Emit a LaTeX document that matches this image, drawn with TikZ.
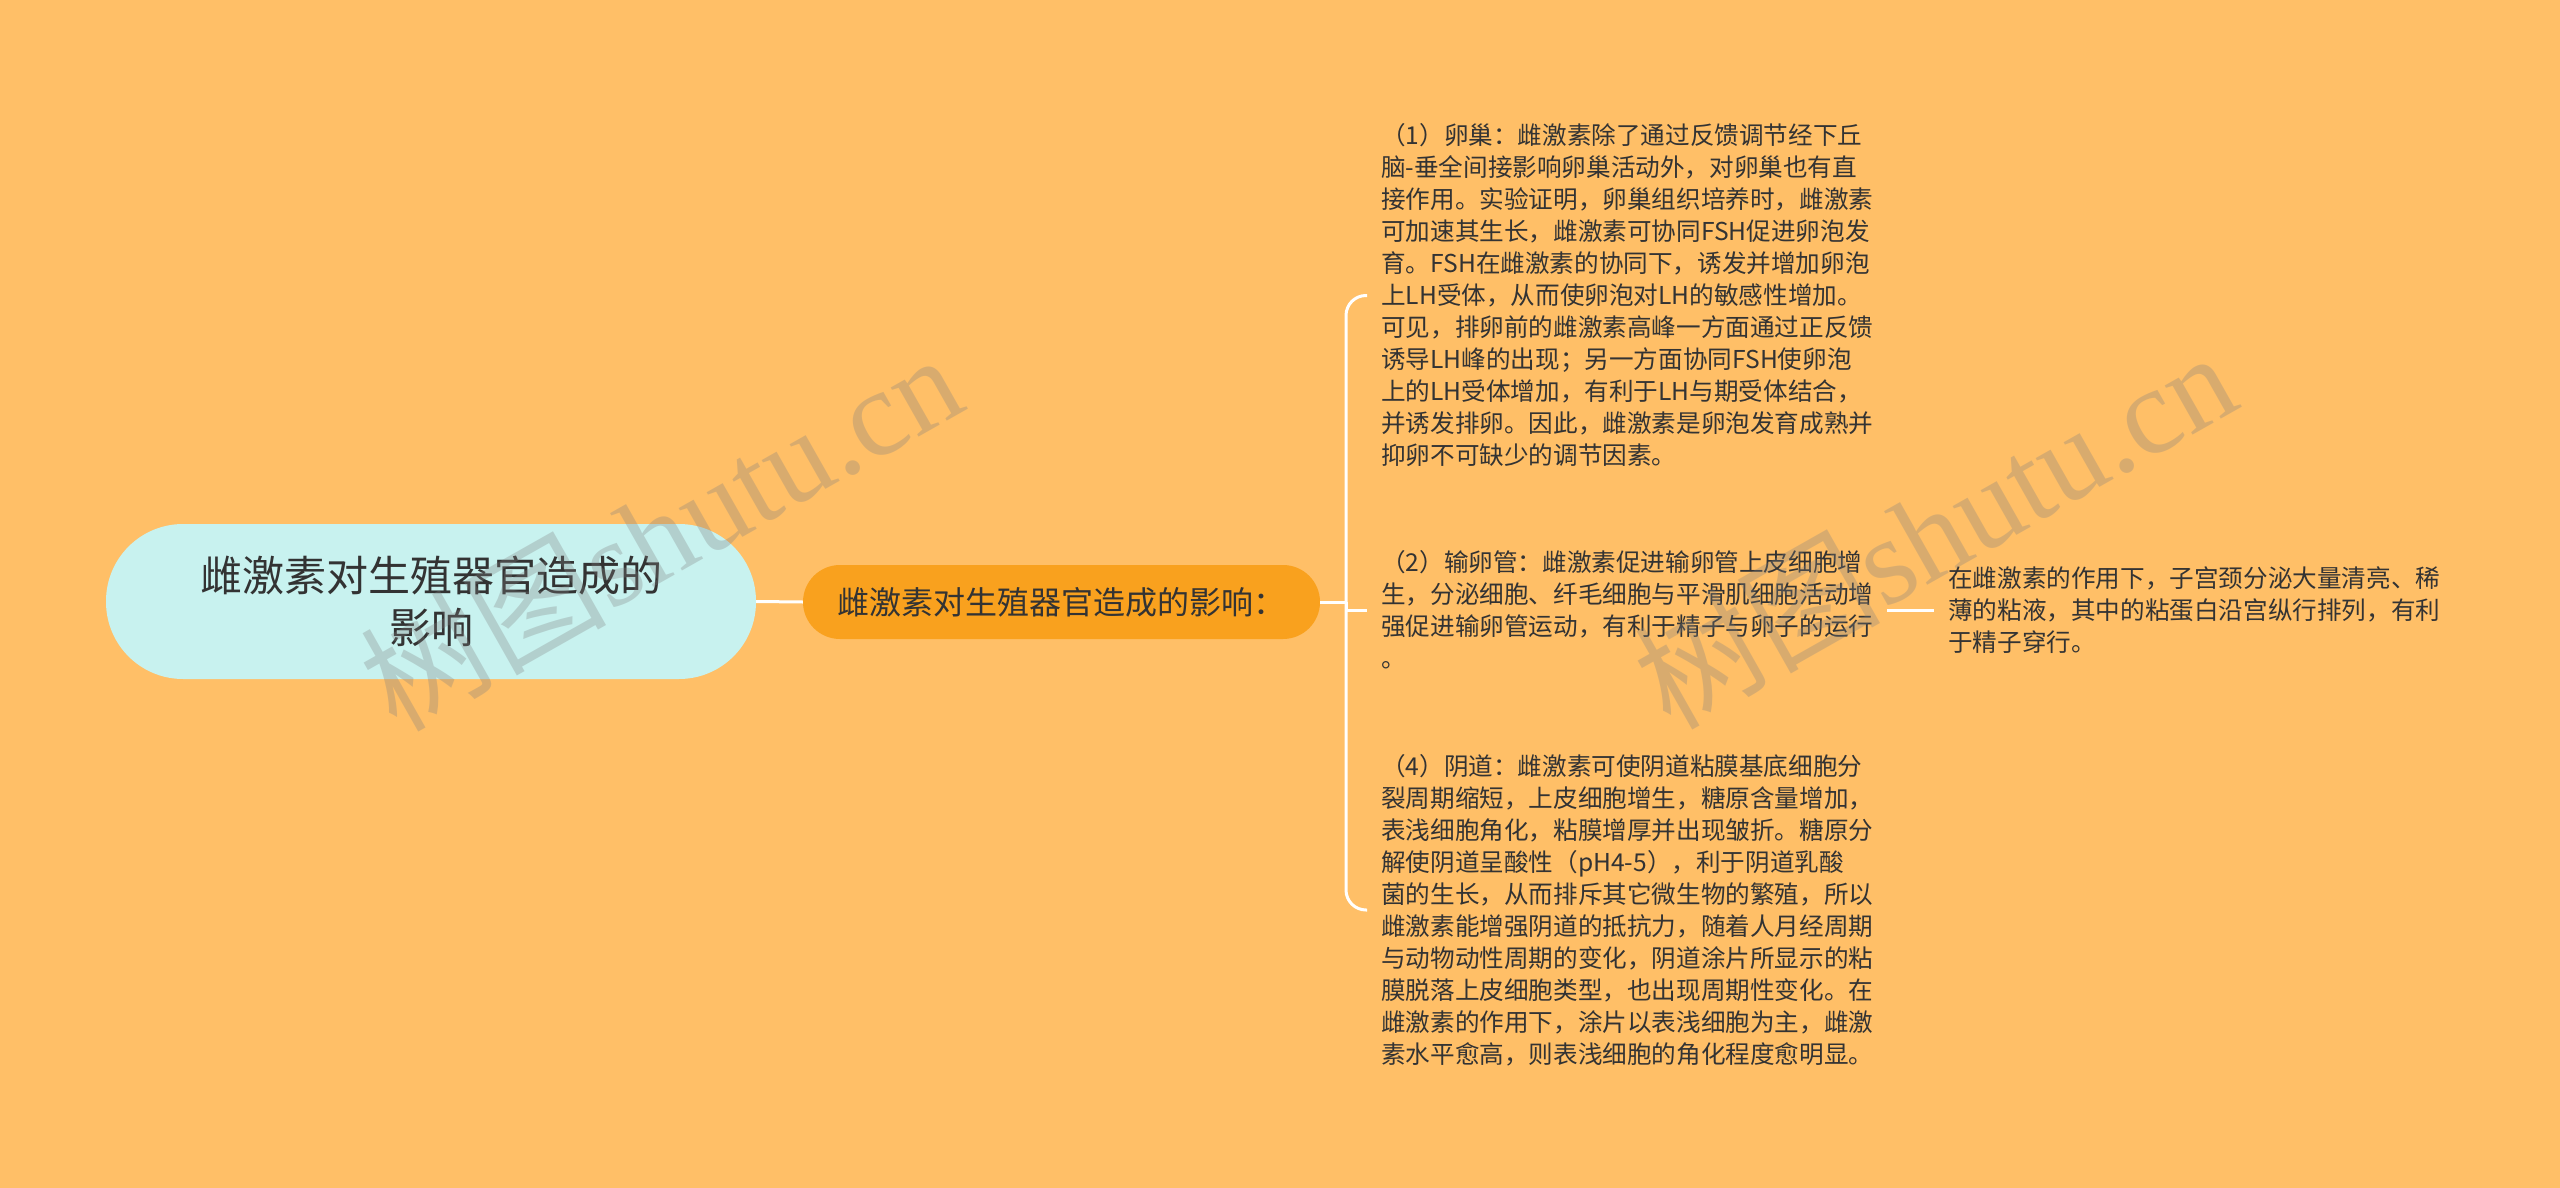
\documentclass[tikz,border=0pt]{standalone}
\usepackage{fontspec}
\setmainfont{Noto Sans CJK SC}
\newfontfamily\wmlatin{Liberation Serif}
\usetikzlibrary{calc}
\definecolor{bg}{HTML}{FFBF67}
\definecolor{rootfill}{HTML}{C8F2EF}
\definecolor{mainfill}{HTML}{F9A11E}
\definecolor{txt}{HTML}{333333}
\begin{document}
\begin{tikzpicture}[x=1pt,y=-1pt,
  conn/.style={draw=white,line width=3pt},
  rootbox/.style={fill=rootfill,rounded corners=77pt,minimum width=650pt,minimum height=155pt,text=txt,align=center,font=\fontsize{42}{52}\selectfont,inner sep=0pt},
  mainbox/.style={fill=mainfill,rounded corners=37pt,minimum width=517pt,minimum height=74pt,text=txt,font=\fontsize{32}{40}\selectfont,inner sep=0pt},
  leaf/.style={anchor=west,align=left,text=txt,font=\fontsize{24.6}{32}\selectfont,inner xsep=14pt,inner ysep=0pt},
  wm/.style={text=gray,text opacity=0.3,rotate=29.5,font=\fontsize{123}{123}\selectfont,inner sep=0pt}]
\useasboundingbox (0,0) rectangle (2560,1188);
\fill[bg] (0,0) rectangle (2560,1188);

\node[rootbox] (root) at (431,601.5) {雌激素对生殖器官造成的\\影响};
\node[mainbox] (main) at (1061.5,602) {雌激素对生殖器官造成的影响：};

\node[leaf] (b1) at (1367,295.5) {（1）卵巢：雌激素除了通过反馈调节经下丘\\脑-垂全间接影响卵巢活动外，对卵巢也有直\\接作用。实验证明，卵巢组织培养时，雌激素\\可加速其生长，雌激素可协同FSH促进卵泡发\\育。FSH在雌激素的协同下，诱发并增加卵泡\\上LH受体，从而使卵泡对LH的敏感性增加。\\可见，排卵前的雌激素高峰一方面通过正反馈\\诱导LH峰的出现；另一方面协同FSH使卵泡\\上的LH受体增加，有利于LH与期受体结合，\\并诱发排卵。因此，雌激素是卵泡发育成熟并\\抑卵不可缺少的调节因素。};
\node[leaf] (b2) at (1367,610) {（2）输卵管：雌激素促进输卵管上皮细胞增\\生，分泌细胞、纤毛细胞与平滑肌细胞活动增\\强促进输卵管运动，有利于精子与卵子的运行\\。};
\node[leaf] (b4) at (1367,910) {（4）阴道：雌激素可使阴道粘膜基底细胞分\\裂周期缩短，上皮细胞增生，糖原含量增加，\\表浅细胞角化，粘膜增厚并出现皱折。糖原分\\解使阴道呈酸性（pH4-5），利于阴道乳酸\\菌的生长，从而排斥其它微生物的繁殖，所以\\雌激素能增强阴道的抵抗力，随着人月经周期\\与动物动性周期的变化，阴道涂片所显示的粘\\膜脱落上皮细胞类型，也出现周期性变化。在\\雌激素的作用下，涂片以表浅细胞为主，雌激\\素水平愈高，则表浅细胞的角化程度愈明显。};
\node[leaf] (b3) at (1934,610) {在雌激素的作用下，子宫颈分泌大量清亮、稀\\薄的粘液，其中的粘蛋白沿宫纵行排列，有利\\于精子穿行。};

\coordinate (j) at (1346,602);
\draw[conn] (root.east) -- (main.west);
\draw[conn] (main.east) -- (j);
\draw[conn,rounded corners=20pt] (j) |- (b1.west);
\draw[conn,rounded corners=20pt] (j) |- (b4.west);
\draw[conn] (j) -- (j |- b2.west) -- (b2.west);
\draw[conn] (b2.east) -- (b3.west);

\node[wm] (wm1) at (660,530) {树图{\wmlatin shutu.cn}};
\node[wm] (wm2) at (1934,528) {树图{\wmlatin shutu.cn}};
\end{tikzpicture}
\end{document}
